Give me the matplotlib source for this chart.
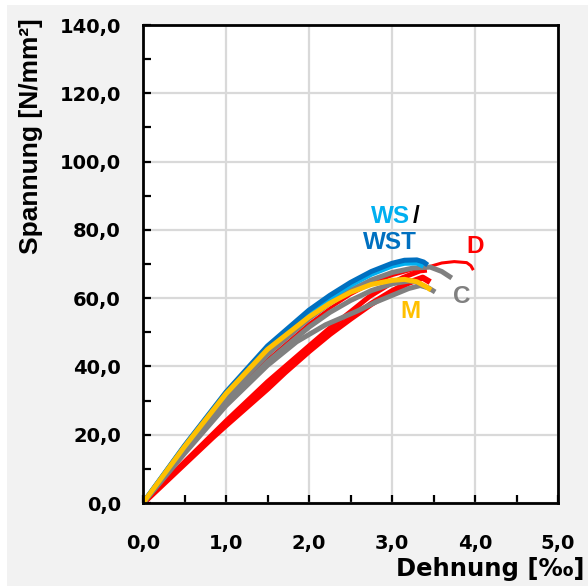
import matplotlib
matplotlib.use("Agg")
import matplotlib.pyplot as plt
from matplotlib.patches import Rectangle
from matplotlib.ticker import MultipleLocator, FuncFormatter

plt.rcParams['font.family'] = ['Liberation Sans', 'DejaVu Sans']
plt.rcParams['font.weight'] = 'bold'

# Stress-strain curves per test series: strain [‰], stress [N/mm²]
ws_strain = [0.0, 0.5, 1.0, 1.5, 2.0, 2.25, 2.5, 2.75, 3.0, 3.15, 3.3, 3.38]
ws_stress = [0.0, 16.6, 32.2, 45.5, 55.8, 60.0, 63.8, 67.0, 69.4, 70.2, 70.3, 69.3]

wst_strain = [0.0, 0.5, 1.0, 1.5, 2.0, 2.25, 2.5, 2.75, 3.0, 3.15, 3.3, 3.38, 3.43]
wst_stress = [0.0, 16.8, 32.5, 46.0, 56.5, 60.8, 64.6, 67.8, 70.2, 71.1, 71.2, 70.6, 69.7]

d1_strain = [0.0, 0.5, 1.0, 1.5, 2.0, 2.25, 2.5, 2.75, 3.0, 3.25, 3.46, 3.6, 3.75, 3.9, 3.95, 3.98]
d1_stress = [0.0, 15.0, 29.5, 42.0, 52.5, 57.0, 61.0, 64.2, 66.6, 68.3, 69.3, 70.3, 70.7, 70.4, 69.5, 68.2]

d2_strain = [0.0, 0.5, 1.0, 1.5, 2.0, 2.25, 2.5, 2.73, 2.95, 3.13, 3.34, 3.42]
d2_stress = [0.0, 12.0, 24.0, 35.5, 46.0, 51.2, 56.0, 60.5, 63.8, 66.0, 68.0, 68.2]

d3_strain = [0.0, 0.5, 0.84, 1.0, 1.5, 1.71, 2.0, 2.25, 2.5, 2.75, 3.0, 3.2, 3.37, 3.46]
d3_stress = [0.0, 11.5, 19.3, 22.8, 33.5, 38.3, 44.5, 49.5, 54.0, 58.3, 62.0, 64.5, 66.0, 64.7]

c1_strain = [0.0, 0.5, 1.0, 1.5, 2.0, 2.25, 2.5, 2.75, 3.0, 3.25, 3.46, 3.6, 3.72]
c1_stress = [0.0, 15.8, 30.8, 43.5, 54.0, 58.5, 62.3, 65.3, 67.5, 68.8, 69.1, 67.8, 65.9]

c2_strain = [0.0, 0.5, 1.0, 1.5, 2.0, 2.25, 2.5, 2.75, 3.0, 3.2, 3.3]
c2_stress = [0.0, 15.0, 29.2, 41.3, 51.5, 55.8, 59.3, 62.2, 64.2, 65.0, 64.8]

c3_strain = [0.0, 0.5, 1.0, 1.5, 1.85, 2.2, 2.58, 2.8, 3.0, 3.2, 3.34, 3.44, 3.52]
c3_stress = [0.0, 14.5, 28.5, 40.3, 47.2, 52.2, 56.2, 58.8, 60.8, 62.8, 63.7, 63.0, 61.8]

m_strain = [0.0, 0.5, 1.0, 1.5, 2.0, 2.25, 2.5, 2.75, 3.0, 3.15, 3.3, 3.4, 3.47]
m_stress = [0.0, 16.5, 32.0, 45.0, 54.5, 58.5, 61.7, 64.0, 65.2, 65.5, 64.8, 63.5, 62.4]

x_ticks = [0, 1, 2, 3, 4, 5]
y_ticks = [0, 20, 40, 60, 80, 100, 120, 140]

C_WS = '#00B0F0'
C_WST = '#0070C0'
C_D = '#FF0000'
C_C = '#808080'
C_M = '#FFC000'

fig = plt.figure(figsize=(5.88, 5.86), dpi=100)
fig.patch.set_facecolor('white')
fig.add_artist(Rectangle((7 / 588, 0), 1, (586 - 5) / 586, transform=fig.transFigure,
                         facecolor='#F2F2F2', edgecolor='none', zorder=-10))

ax = fig.add_axes([143 / 588, 1 - 503 / 586, (558 - 143) / 588, (503 - 25) / 586])
ax.set_facecolor('white')

lw = 3.6
ax.plot(d3_strain, d3_stress, color=C_D, lw=lw + 0.8, solid_capstyle='butt')
ax.plot(d2_strain, d2_stress, color=C_D, lw=lw, solid_capstyle='butt')
ax.plot(c3_strain, c3_stress, color=C_C, lw=lw, solid_capstyle='butt')
ax.plot(d1_strain, d1_stress, color=C_D, lw=2.2, solid_capstyle='butt')
ax.plot(c2_strain, c2_stress, color=C_C, lw=lw, solid_capstyle='butt')
ax.plot(c1_strain, c1_stress, color=C_C, lw=lw, solid_capstyle='butt')
ax.plot(ws_strain, ws_stress, color=C_WS, lw=lw, solid_capstyle='butt')
ax.plot(wst_strain, wst_stress, color=C_WST, lw=lw, solid_capstyle='butt')
ax.plot(m_strain, m_stress, color=C_M, lw=lw, solid_capstyle='butt')

ax.set_xlim(0, 5)
ax.set_ylim(0, 140)
ax.set_xticks(x_ticks)
ax.set_yticks(y_ticks)
ax.xaxis.set_minor_locator(MultipleLocator(0.5))
ax.yaxis.set_minor_locator(MultipleLocator(10))
fmt = FuncFormatter(lambda v, p: f"{v:.1f}".replace('.', ','))
ax.xaxis.set_major_formatter(fmt)
ax.yaxis.set_major_formatter(fmt)

ax.grid(True, which='major', color='#D9D9D9', lw=1.6)
ax.set_axisbelow(True)
ax.tick_params(which='both', direction='in', length=6, width=1.6, color='black')
ax.tick_params(axis='x', which='major', labelsize=14, pad=22)
ax.tick_params(axis='y', which='major', labelsize=14, pad=16)
for lab in ax.get_xticklabels() + ax.get_yticklabels():
    lab.set_fontweight('bold')
    lab.set_family('DejaVu Sans')
for s in ax.spines.values():
    s.set_linewidth(2.0)
    s.set_color('black')

fig.text(31 / 588, 1 - 136 / 586, 'Spannung [N/mm²]', rotation=90, ha='center', va='center',
         fontsize=19, fontweight='bold')
fig.text(584 / 588, 1 - 569 / 586, 'Dehnung [‰]', ha='right', va='center',
         fontsize=17.5, fontweight='bold', family='DejaVu Sans')

# Series labels
lab_fs = 17.5
ax.text(2.98, 83.8, 'WS', color=C_WS, fontsize=lab_fs, fontweight='bold', ha='center', va='center')
ax.text(3.29, 83.8, '/', color='black', fontsize=lab_fs, fontweight='bold', ha='center', va='center')
ax.text(2.98, 76.4, 'WST', color=C_WST, fontsize=lab_fs, fontweight='bold', ha='center', va='center')
ax.text(4.0, 75.1, 'D', color=C_D, fontsize=lab_fs, fontweight='bold', ha='center', va='center')
ax.text(3.84, 60.6, 'C', color=C_C, fontsize=lab_fs, fontweight='bold', ha='center', va='center')
ax.text(3.22, 56.1, 'M', color=C_M, fontsize=lab_fs, fontweight='bold', ha='center', va='center')

fig.savefig('out.png', dpi=100, facecolor=fig.get_facecolor())
